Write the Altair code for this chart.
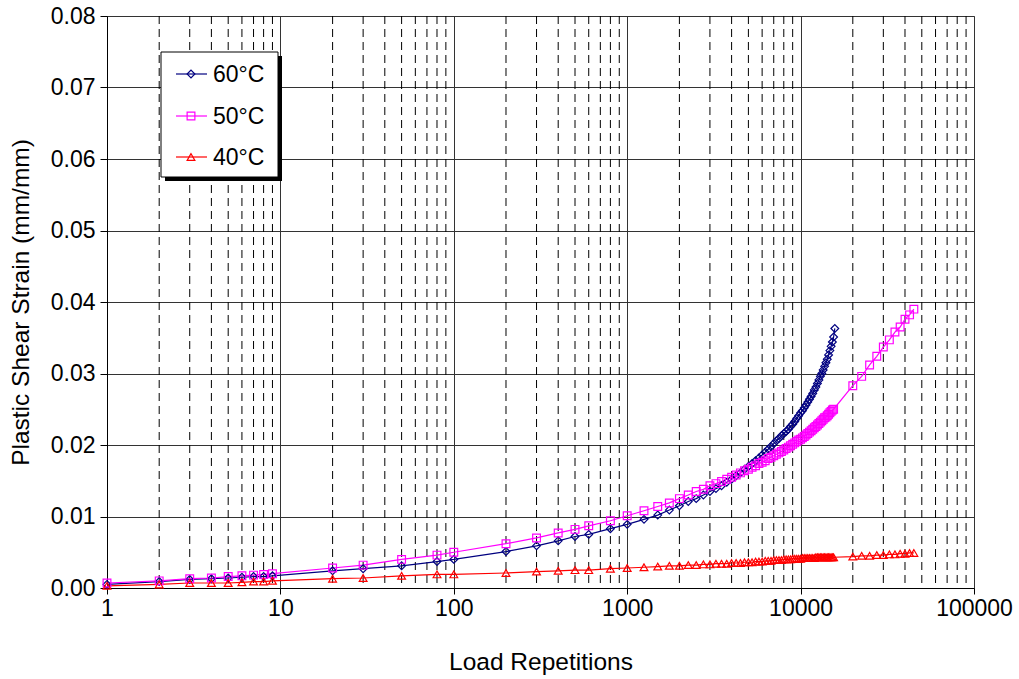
import altair as alt
import pandas as pd

# ---- data ----
series_names = ["60°C", "50°C", "40°C"]
series_colors = ["#000080", "#FF00FF", "#FF0000"]
series_shapes = ["diamond", "square", "triangle-up"]

n_small = [1, 2, 3, 4, 5, 6, 7, 8, 9, 20, 30, 50, 80, 100, 200, 300, 400, 500, 600, 800]

n_dense_60 = [1000, 1250, 1500, 1750, 2000, 2250, 2500, 2750, 3000, 3250,
              3500, 3750, 4000, 4250, 4500, 4750, 5000, 5250, 5500, 5750,
              6000, 6250, 6500, 6750, 7000, 7250, 7500, 7750, 8000, 8250,
              8500, 8750, 9000, 9250, 9500, 9750, 10000, 10250, 10500, 10750,
              11000, 11250, 11500, 11750, 12000, 12250, 12500, 12750, 13000, 13250,
              13500, 13750, 14000, 14250, 14500, 14750, 15000, 15250, 15500, 15750]
n_dense = [1000, 1250, 1500, 1750, 2000, 2250, 2500, 2750, 3000, 3250,
           3500, 3750, 4000, 4250, 4500, 4750, 5000, 5250, 5500, 5750,
           6000, 6250, 6500, 6750, 7000, 7250, 7500, 7750, 8000, 8250,
           8500, 8750, 9000, 9250, 9500, 9750, 10000, 10250, 10500, 10750,
           11000, 11250, 11500, 11750, 12000, 12250, 12500, 12750, 13000, 13250,
           13500, 13750, 14000, 14250, 14500, 14750, 15000, 15250, 15500]
n_tail = [20000, 22500, 25000, 27500, 30000, 32500, 35000, 37500, 40000, 42500, 45000]

s60_small = [0.0005, 0.0009, 0.0012, 0.0013, 0.0014, 0.0015, 0.0016, 0.0016, 0.0017, 0.0024,
             0.0027, 0.0031, 0.0037, 0.0040, 0.0051, 0.0059, 0.0066, 0.0072, 0.0075, 0.0083]
s60_dense = [0.0089, 0.0096, 0.0102, 0.0109, 0.0115, 0.0121, 0.0125, 0.0130, 0.0135, 0.0139,
             0.0143, 0.0148, 0.0152, 0.0157, 0.0161, 0.0166, 0.0170, 0.0174, 0.0178, 0.0182,
             0.0186, 0.0190, 0.0194, 0.0198, 0.0202, 0.0206, 0.0209, 0.0213, 0.0216, 0.0219,
             0.0222, 0.0226, 0.0229, 0.0233, 0.0237, 0.0241, 0.0245, 0.0248, 0.0252, 0.0256,
             0.0260, 0.0264, 0.0268, 0.0272, 0.0277, 0.0281, 0.0286, 0.0291, 0.0296, 0.0300,
             0.0305, 0.0310, 0.0315, 0.0320, 0.0326, 0.0332, 0.0338, 0.0344, 0.0351, 0.0363]

s50_small = [0.0007, 0.0010, 0.0013, 0.0014, 0.0016, 0.0017, 0.0018, 0.0019, 0.0020, 0.0028,
             0.0032, 0.0040, 0.0046, 0.0050, 0.0062, 0.0070, 0.0077, 0.0082, 0.0087, 0.0094]
s50_dense = [0.0101, 0.0108, 0.0114, 0.0119, 0.0125, 0.0130, 0.0135, 0.0138, 0.0143, 0.0146,
             0.0149, 0.0152, 0.0155, 0.0158, 0.0161, 0.0164, 0.0166, 0.0169, 0.0171, 0.0174,
             0.0176, 0.0178, 0.0181, 0.0183, 0.0185, 0.0187, 0.0189, 0.0191, 0.0193, 0.0195,
             0.0197, 0.0199, 0.0201, 0.0203, 0.0205, 0.0207, 0.0208, 0.0210, 0.0212, 0.0214,
             0.0216, 0.0218, 0.0220, 0.0222, 0.0224, 0.0226, 0.0228, 0.0230, 0.0232, 0.0234,
             0.0236, 0.0238, 0.0239, 0.0241, 0.0243, 0.0245, 0.0247, 0.0249, 0.0250]
s50_tail = [0.0283, 0.0296, 0.0312, 0.0324, 0.0337, 0.0347, 0.0358, 0.0365, 0.0376, 0.0382, 0.0390]

s40_small = [0.0003, 0.0005, 0.0007, 0.0007, 0.0007, 0.0008, 0.0009, 0.0009, 0.0010, 0.0013,
             0.0014, 0.0017, 0.0019, 0.0019, 0.0021, 0.0023, 0.0024, 0.0025, 0.0025, 0.0027]
s40_dense = [0.0028, 0.0029, 0.0030, 0.0031, 0.0031, 0.0032, 0.0032, 0.0033, 0.0033, 0.0034,
             0.0034, 0.0034, 0.0035, 0.0035, 0.0035, 0.0036, 0.0036, 0.0036, 0.0037, 0.0037,
             0.0037, 0.0038, 0.0038, 0.0038, 0.0039, 0.0039, 0.0039, 0.0039, 0.0040, 0.0040,
             0.0040, 0.0040, 0.0041, 0.0041, 0.0041, 0.0041, 0.0041, 0.0042, 0.0042, 0.0042,
             0.0042, 0.0042, 0.0042, 0.0042, 0.0042, 0.0043, 0.0043, 0.0043, 0.0043, 0.0043,
             0.0043, 0.0043, 0.0043, 0.0043, 0.0043, 0.0043, 0.0043, 0.0043, 0.0043]
s40_tail = [0.0044, 0.0045, 0.0045, 0.0046, 0.0046, 0.0047, 0.0047, 0.0048, 0.0048, 0.0049, 0.0049]

x_major = [1, 10, 100, 1000, 10000, 100000]
x_minor = [2, 3, 4, 5, 6, 7, 8, 9, 20, 30, 40, 50, 60, 70, 80, 90,
           200, 300, 400, 500, 600, 700, 800, 900, 2000, 3000, 4000, 5000, 6000, 7000, 8000, 9000,
           20000, 30000, 40000, 50000, 60000, 70000, 80000, 90000]
y_ticks = [0.0, 0.01, 0.02, 0.03, 0.04, 0.05, 0.06, 0.07, 0.08]

# ---- build table ----
rows = []
for name, xs, ys in [
    ("60°C", n_small + n_dense_60, s60_small + s60_dense),
    ("50°C", n_small + n_dense + n_tail, s50_small + s50_dense + s50_tail),
    ("40°C", n_small + n_dense + n_tail, s40_small + s40_dense + s40_tail),
]:
    for n, v in zip(xs, ys):
        rows.append({"series": name, "N": n, "strain": v})
df = pd.DataFrame(rows)

FONT = "Liberation Sans"
W, H = 867, 572
MS = 60  # marker size

x_scale = alt.Scale(type="log", domain=[1, 100000], nice=False)
y_scale = alt.Scale(domain=[0, 0.08], nice=False, zero=False)
color_scale = alt.Scale(domain=series_names, range=series_colors)
shape_scale = alt.Scale(domain=series_names, range=series_shapes)

x_axis = alt.Axis(values=x_major, format="d", grid=True, gridColor="#333333",
                  gridWidth=1, tickSize=6, tickColor="black", domainColor="black",
                  labelFont=FONT, labelFontSize=23, labelColor="black",
                  labelPadding=3, labelFlush=False, labelOverlap=False,
                  titleFont=FONT, titleFontSize=24.5, titleFontWeight="normal",
                  titleColor="black", titlePadding=30)
y_axis = alt.Axis(values=y_ticks, format=".2f", grid=True, gridColor="#333333",
                  gridWidth=1, tickSize=7, tickColor="black", domainColor="black",
                  labelFont=FONT, labelFontSize=23, labelColor="black",
                  labelPadding=5, labelFlush=False,
                  titleFont=FONT, titleFontSize=24.5, titleFontWeight="normal",
                  titleColor="black", titlePadding=17)
X_TITLE = "Load Repetitions"
Y_TITLE = "Plastic Shear Strain (mm/mm)"

minor_grid = alt.Chart(pd.DataFrame({"v": x_minor})).mark_rule(
    color="black", strokeWidth=1, strokeDash=[8, 5]
).encode(
    x=alt.X("v:Q", scale=x_scale, axis=x_axis, title=X_TITLE),
    y=alt.value(0),
    y2=alt.value(H),
)

lines = alt.Chart(df).mark_line(strokeWidth=1.2).encode(
    x=alt.X("N:Q", scale=x_scale, axis=x_axis, title=X_TITLE),
    y=alt.Y("strain:Q", scale=y_scale, axis=y_axis, title=Y_TITLE),
    color=alt.Color("series:N", scale=color_scale, legend=None),
    detail="series:N",
    order=alt.Order("N:Q"),
)

points = alt.Chart(df).mark_point(filled=False, strokeWidth=1.2, opacity=1).encode(
    x=alt.X("N:Q", scale=x_scale, axis=x_axis, title=X_TITLE),
    y=alt.Y("strain:Q", scale=y_scale, axis=y_axis, title=Y_TITLE),
    color=alt.Color("series:N", scale=color_scale, legend=None),
    shape=alt.Shape("series:N", scale=shape_scale, legend=None),
    size=alt.value(MS),
)

# ---- manual Excel-style legend ----
one = pd.DataFrame({"k": [0]})
lx0, ly0, lx1, ly1 = 54, 36, 171, 161
shadow = alt.Chart(one).mark_rect(color="black").encode(
    x=alt.value(lx0 + 4), x2=alt.value(lx1 + 4), y=alt.value(ly0 + 4), y2=alt.value(ly1 + 4))
box = alt.Chart(one).mark_rect(fill="white", stroke="black", strokeWidth=1).encode(
    x=alt.value(lx0), x2=alt.value(lx1), y=alt.value(ly0), y2=alt.value(ly1))
legend_layers = [shadow, box]
entry_y = [58, 100, 141]
for name, col, shp, yy in zip(series_names, series_colors, series_shapes, entry_y):
    legend_layers.append(alt.Chart(one).mark_rule(color=col, strokeWidth=1.2).encode(
        x=alt.value(69), x2=alt.value(100), y=alt.value(yy)))
    legend_layers.append(alt.Chart(one).mark_point(
        shape=shp, filled=False, color=col, strokeWidth=1.2, size=MS, opacity=1).encode(
        x=alt.value(84), y=alt.value(yy)))
    legend_layers.append(alt.Chart(one).mark_text(
        text=name, font=FONT, fontSize=23, color="black", align="left", baseline="middle").encode(
        x=alt.value(106), y=alt.value(yy + 1)))

chart = alt.layer(minor_grid, lines, points, *legend_layers).properties(
    width=W, height=H,
    autosize=alt.AutoSizeParams(type="none"),
    padding={"left": 107, "top": 16, "right": 1019 - 107 - W, "bottom": 679 - 16 - H},
    background="white",
).configure_view(stroke="#808080", strokeWidth=1)

chart.save("out.html", embed_options={"renderer": "svg", "actions": False})
